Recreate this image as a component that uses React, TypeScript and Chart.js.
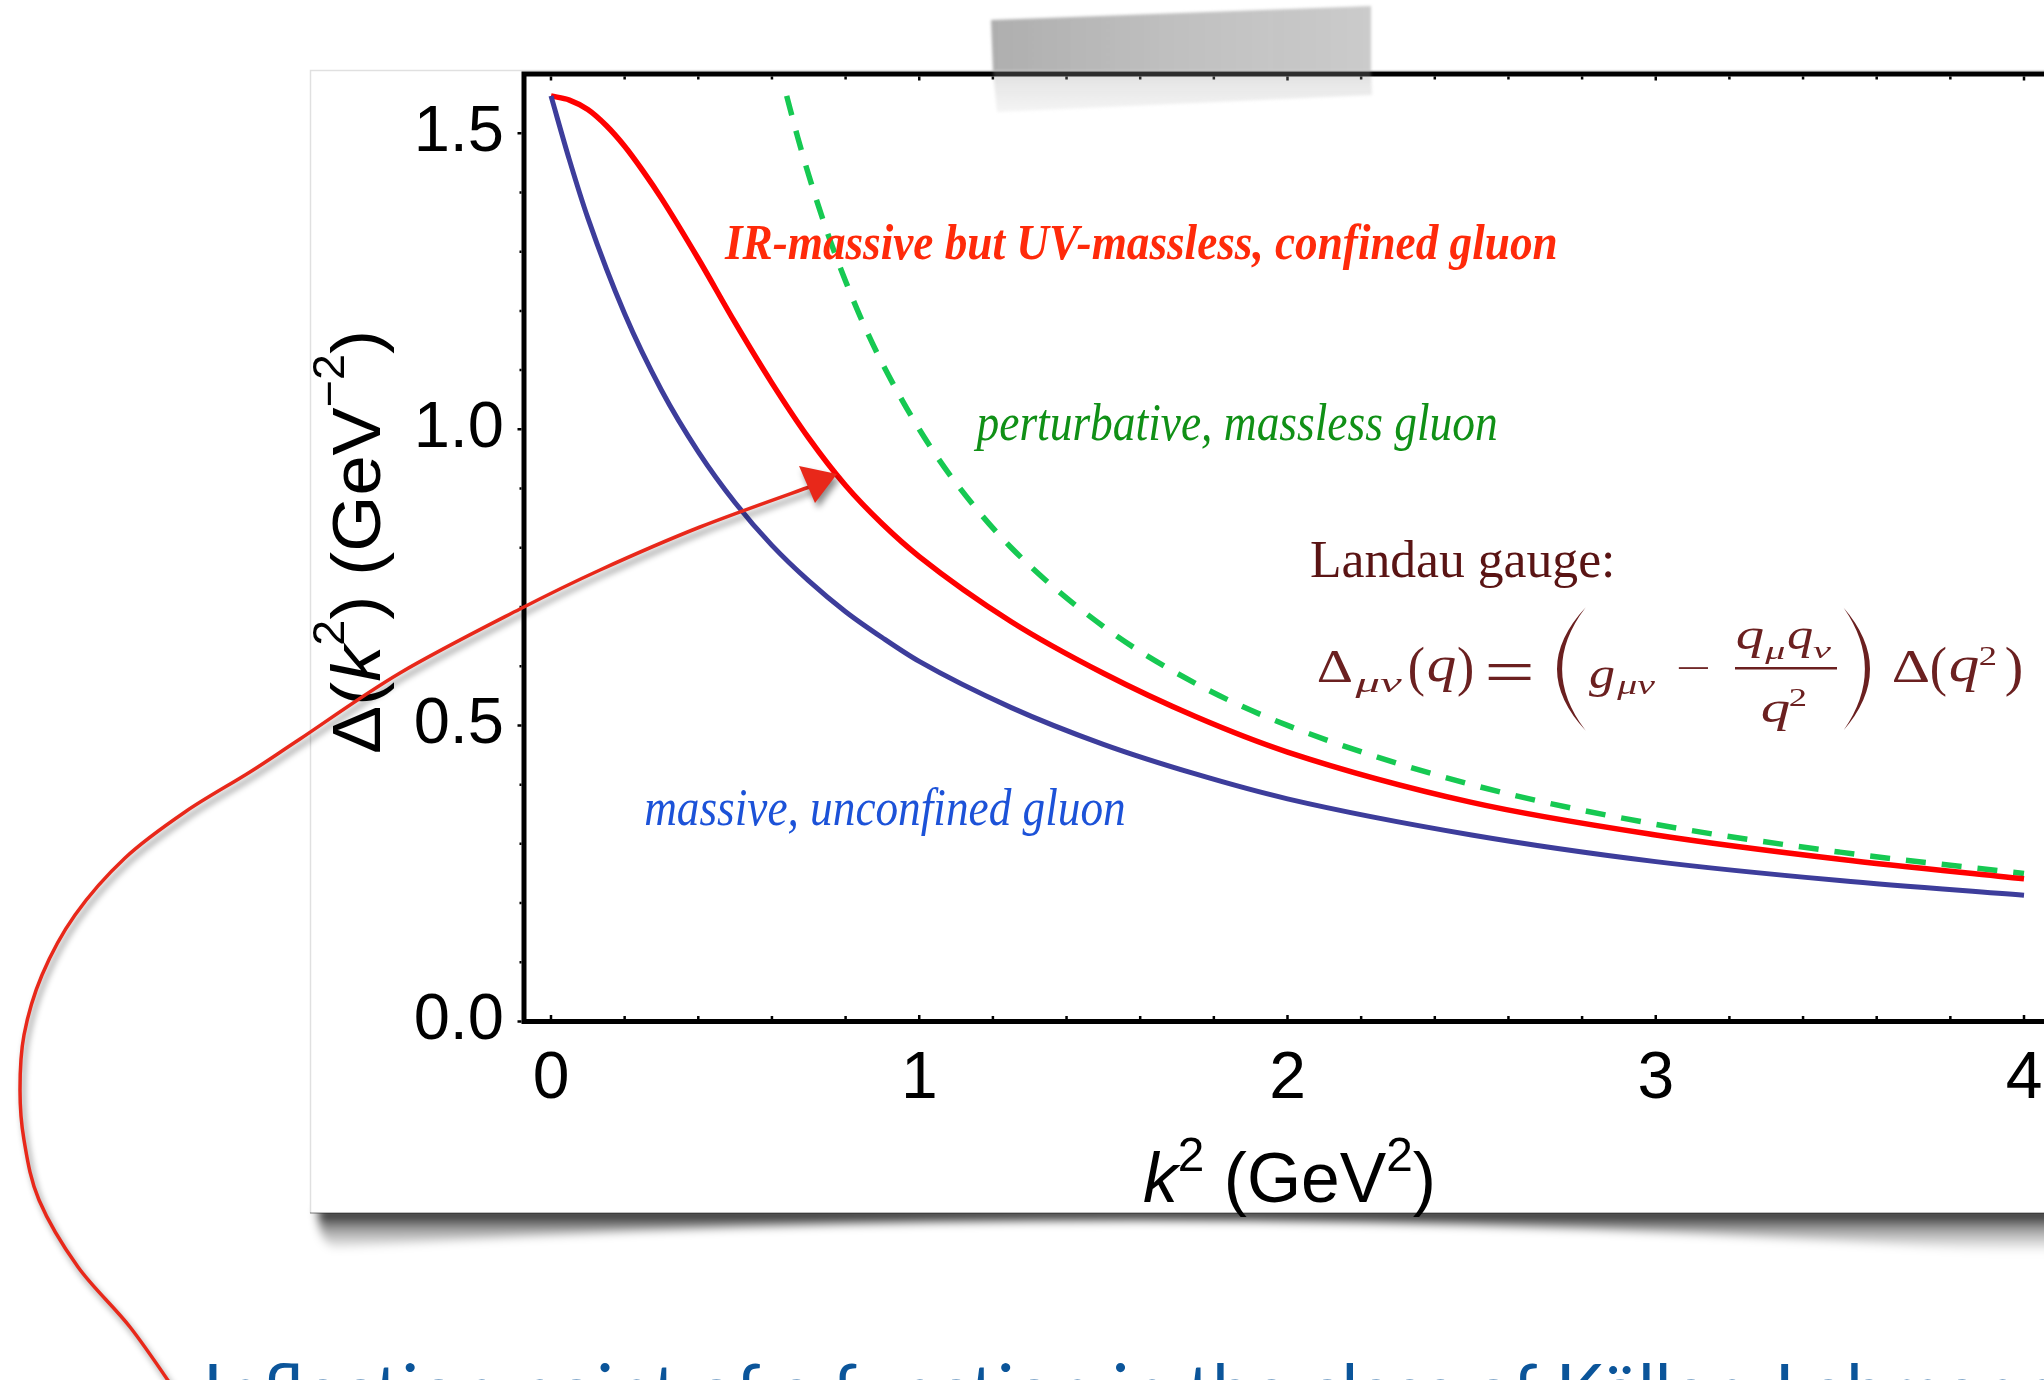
import { useEffect, useRef } from 'react';
import { Chart, registerables } from 'chart.js';

Chart.register(...registerables);

const W = 2044;
const H = 1380;

// k^2 (GeV^2) sample positions and propagator values
const massiveK2 = [0, 0.05, 0.1, 0.2, 0.3, 0.4, 0.5, 0.6, 0.7, 0.8, 0.9, 1.0, 1.25, 1.5, 1.75, 2.0, 2.5, 3.0, 3.5, 4.0];
const massiveProp = [1.563, 1.455, 1.357, 1.195, 1.066, 0.962, 0.876, 0.804, 0.744, 0.692, 0.648, 0.608, 0.53, 0.468, 0.418, 0.376, 0.315, 0.27, 0.238, 0.213];

const confinedK2 = [0, 0.05, 0.1, 0.15, 0.2, 0.25, 0.3, 0.4, 0.5, 0.6, 0.7, 0.8, 0.9, 1.0, 1.25, 1.5, 1.75, 2.0, 2.5, 3.0, 3.5, 4.0];
const confinedProp = [1.563, 1.556, 1.54, 1.513, 1.478, 1.436, 1.39, 1.288, 1.18, 1.078, 0.985, 0.905, 0.84, 0.785, 0.675, 0.588, 0.515, 0.455, 0.37, 0.315, 0.274, 0.241];

const perturbativeK2 = [0.64, 0.67, 0.7, 0.75, 0.8, 0.85, 0.9, 1.0, 1.1, 1.25, 1.5, 1.75, 2.0, 2.5, 3.0, 3.5, 4.0];
const perturbativeProp = [1.563, 1.493, 1.429, 1.333, 1.25, 1.176, 1.111, 1.0, 0.909, 0.8, 0.667, 0.571, 0.5, 0.4, 0.333, 0.286, 0.25];

const xTickValues = [0, 1, 2, 3, 4];
const xTickLabels = ['0', '1', '2', '3', '4'];
const yTickValues = [0, 0.5, 1.0, 1.5];
const yTickLabels = ['0.0', '0.5', '1.0', '1.5'];

const X_MIN = -0.0733;
const X_MAX = 4.0543;
const Y_MIN = 0;
const Y_MAX = 1.6;

const SANS = '"Liberation Sans", Arial, Helvetica, sans-serif';
const SERIF = '"Liberation Serif", "Times New Roman", serif';

const toPoints = (xs: number[], ys: number[]) => xs.map((x, i) => ({ x, y: ys[i] }));

type Run = { text: string; font: string; dy?: number };

function drawRuns(ctx: CanvasRenderingContext2D, runs: Run[], x: number, y: number, targetW: number, color: string) {
  let total = 0;
  for (const r of runs) {
    ctx.font = r.font;
    total += ctx.measureText(r.text).width;
  }
  const sx = targetW / total;
  ctx.save();
  ctx.translate(x, y);
  ctx.scale(sx, 1);
  ctx.fillStyle = color;
  ctx.textAlign = 'left';
  ctx.textBaseline = 'alphabetic';
  let cx = 0;
  for (const r of runs) {
    ctx.font = r.font;
    ctx.fillText(r.text, cx, r.dy || 0);
    cx += ctx.measureText(r.text).width;
  }
  ctx.restore();
}

function drawFit(ctx: CanvasRenderingContext2D, text: string, font: string, color: string, x: number, baseline: number, width: number) {
  ctx.save();
  ctx.font = font;
  ctx.textAlign = 'left';
  ctx.textBaseline = 'alphabetic';
  const m = ctx.measureText(text);
  const inkW = m.actualBoundingBoxRight + m.actualBoundingBoxLeft;
  const sx = width / inkW;
  ctx.translate(x + m.actualBoundingBoxLeft * sx, baseline);
  ctx.scale(sx, 1);
  ctx.fillStyle = color;
  ctx.fillText(text, 0, 0);
  ctx.restore();
}

// fit the ink box of a glyph run into a given pixel box
function drawInk(ctx: CanvasRenderingContext2D, text: string, font: string, color: string, x0: number, x1: number, y0: number, y1: number) {
  ctx.save();
  ctx.font = font;
  ctx.textAlign = 'left';
  ctx.textBaseline = 'alphabetic';
  const m = ctx.measureText(text);
  const inkL = -m.actualBoundingBoxLeft;
  const inkR = m.actualBoundingBoxRight;
  const inkT = -m.actualBoundingBoxAscent;
  const inkB = m.actualBoundingBoxDescent;
  const sx = (x1 - x0) / (inkR - inkL);
  const sy = (y1 - y0) / (inkB - inkT);
  ctx.translate(x0 - inkL * sx, y0 - inkT * sy);
  ctx.scale(sx, sy);
  ctx.fillStyle = color;
  ctx.fillText(text, 0, 0);
  ctx.restore();
}

// thin tall delimiter (crescent) for the big parentheses of the formula
function bigParen(ctx: CanvasRenderingContext2D, xEnd: number, xMid: number, y0: number, y1: number, color: string) {
  const ym = (y0 + y1) / 2;
  const dir = Math.sign(xEnd - xMid);
  ctx.save();
  ctx.fillStyle = color;
  ctx.beginPath();
  ctx.moveTo(xEnd, y0);
  ctx.quadraticCurveTo(2 * xMid - xEnd, ym, xEnd, y1);
  ctx.lineTo(xEnd - dir * 0.8, y1 - 1);
  ctx.quadraticCurveTo(2 * (xMid + dir * 5.5) - xEnd, ym, xEnd - dir * 0.8, y0 + 1);
  ctx.closePath();
  ctx.fill();
  ctx.restore();
}

function catmull(ctx: CanvasRenderingContext2D, pts: number[][]) {
  ctx.moveTo(pts[0][0], pts[0][1]);
  for (let i = 0; i < pts.length - 1; i++) {
    const p0 = pts[Math.max(0, i - 1)];
    const p1 = pts[i];
    const p2 = pts[i + 1];
    const p3 = pts[Math.min(pts.length - 1, i + 2)];
    ctx.bezierCurveTo(
      p1[0] + (p2[0] - p0[0]) / 6,
      p1[1] + (p2[1] - p0[1]) / 6,
      p2[0] - (p3[0] - p1[0]) / 6,
      p2[1] - (p3[1] - p1[1]) / 6,
      p2[0],
      p2[1]
    );
  }
}

const decor = {
  id: 'decor',
  beforeDraw(chart: any) {
    const ctx: CanvasRenderingContext2D = chart.ctx;
    ctx.save();
    ctx.fillStyle = '#ffffff';
    ctx.fillRect(0, 0, W, H);
    // curled drop shadow under the card
    ctx.filter = 'blur(5px)';
    const g = ctx.createLinearGradient(0, 1212, 0, 1252);
    g.addColorStop(0, 'rgba(0,0,0,0.85)');
    g.addColorStop(0.45, 'rgba(0,0,0,0.35)');
    g.addColorStop(1, 'rgba(0,0,0,0)');
    ctx.fillStyle = g;
    ctx.beginPath();
    ctx.moveTo(318, 1208);
    ctx.lineTo(2080, 1208);
    ctx.lineTo(2080, 1258);
    ctx.quadraticCurveTo(1200, 1188, 334, 1248);
    ctx.quadraticCurveTo(318, 1242, 318, 1208);
    ctx.closePath();
    ctx.fill();
    ctx.filter = 'none';
    // card
    ctx.fillStyle = '#ffffff';
    ctx.fillRect(310, 70, W - 310, 1213 - 70);
    ctx.strokeStyle = 'rgba(0,0,0,0.12)';
    ctx.lineWidth = 1.5;
    ctx.beginPath();
    ctx.moveTo(310.5, 1213);
    ctx.lineTo(310.5, 70.5);
    ctx.lineTo(W, 70.5);
    ctx.stroke();
    ctx.strokeStyle = 'rgba(0,0,0,0.35)';
    ctx.beginPath();
    ctx.moveTo(310, 1213);
    ctx.lineTo(W, 1213);
    ctx.stroke();
    ctx.restore();
  },
  afterDraw(chart: any) {
    const ctx: CanvasRenderingContext2D = chart.ctx;
    const xs = chart.scales.x;
    const ys = chart.scales.y;
    const { left, top, bottom, right } = chart.chartArea;
    ctx.save();

    // frame
    ctx.strokeStyle = '#000';
    ctx.lineWidth = 5;
    ctx.lineCap = 'butt';
    ctx.beginPath();
    ctx.moveTo(left - 2.5, top);
    ctx.lineTo(right + 5, top);
    ctx.moveTo(left, top - 2.5);
    ctx.lineTo(left, bottom + 2.5);
    ctx.moveTo(left - 2.5, bottom);
    ctx.lineTo(right + 5, bottom);
    ctx.stroke();

    // small ticks
    ctx.lineWidth = 2.5;
    ctx.beginPath();
    for (let i = 0; i <= 20; i++) {
      const v = i / 5;
      const px = xs.getPixelForValue(v);
      const len = i % 5 === 0 ? 4 : 3;
      ctx.moveTo(px, bottom - 2.5);
      ctx.lineTo(px, bottom - 2.5 - len);
      ctx.moveTo(px, top + 2.5);
      ctx.lineTo(px, top + 2.5 + len);
    }
    for (let i = 0; i <= 15; i++) {
      const v = i / 10;
      const py = ys.getPixelForValue(v);
      const len = i % 5 === 0 ? 4 : 2;
      ctx.moveTo(left - 2.5, py);
      ctx.lineTo(left - 2.5 - len, py);
    }
    ctx.stroke();

    // axis titles
    drawRuns(
      ctx,
      [
        { text: 'k', font: `italic 70px ${SANS}` },
        { text: '2', font: `48px ${SANS}`, dy: -31 },
        { text: ' (', font: `70px ${SANS}` },
        { text: 'GeV', font: `70px ${SANS}` },
        { text: '2', font: `48px ${SANS}`, dy: -31 },
        { text: ')', font: `70px ${SANS}` },
      ],
      1143,
      1202,
      293,
      '#000'
    );
    ctx.save();
    ctx.translate(380, 754);
    ctx.rotate(-Math.PI / 2);
    drawRuns(
      ctx,
      [
        { text: 'Δ', font: `68px ${SANS}` },
        { text: '(', font: `68px ${SANS}` },
        { text: 'k', font: `italic 68px ${SANS}` },
        { text: '2', font: `44px ${SANS}`, dy: -36 },
        { text: ') (', font: `68px ${SANS}` },
        { text: 'GeV', font: `68px ${SANS}` },
        { text: '−2', font: `44px ${SANS}`, dy: -36 },
        { text: ')', font: `68px ${SANS}` },
      ],
      0,
      0,
      424,
      '#000'
    );
    ctx.restore();

    // curve labels
    drawFit(ctx, 'IR-massive but UV-massless, confined gluon', `bold italic 50px ${SERIF}`, '#ff2a0a', 724, 259, 832);
    drawFit(ctx, 'perturbative, massless gluon', `italic 52px ${SERIF}`, '#109016', 973, 440, 523);
    drawFit(ctx, 'massive, unconfined gluon', `italic 52px ${SERIF}`, '#1c52d8', 645, 825, 479);

    // Landau gauge formula
    const fc = '#6b2020';
    drawFit(ctx, 'Landau gauge:', `52px ${SERIF}`, '#5a1414', 1311, 577, 301);
    const up = `48px ${SERIF}`;
    const it = `italic 48px ${SERIF}`;
    const itS = `italic 34px ${SERIF}`;
    drawInk(ctx, 'Δ', up, fc, 1318, 1352, 651, 682);
    drawInk(ctx, 'μν', itS, fc, 1354, 1403, 679, 698);
    drawInk(ctx, '(', up, fc, 1410, 1424, 646, 698);
    drawInk(ctx, 'q', it, fc, 1428, 1455, 657, 692);
    drawInk(ctx, ')', up, fc, 1458, 1472, 646, 698);
    drawInk(ctx, '=', up, fc, 1488, 1531, 664, 680);
    bigParen(ctx, 1586, 1557, 607, 731, fc);
    drawInk(ctx, 'g', it, fc, 1589, 1614, 666, 697);
    drawInk(ctx, 'μν', itS, fc, 1616, 1656, 681, 699);
    drawInk(ctx, '−', up, fc, 1678, 1708, 666, 669);
    drawInk(ctx, 'q', it, fc, 1737, 1763, 627, 658);
    drawInk(ctx, 'μ', itS, fc, 1764, 1784, 647, 664);
    drawInk(ctx, 'q', it, fc, 1788, 1812, 627, 658);
    drawInk(ctx, 'ν', itS, fc, 1813, 1832, 647, 658);
    ctx.fillStyle = fc;
    ctx.fillRect(1735, 667, 102, 2.5);
    drawInk(ctx, 'q', it, fc, 1762, 1789, 700, 731);
    drawInk(ctx, '2', `32px ${SERIF}`, fc, 1790, 1806, 689, 706);
    bigParen(ctx, 1843, 1870, 607, 731, fc);
    drawInk(ctx, 'Δ', up, fc, 1893, 1929, 651, 682);
    drawInk(ctx, '(', up, fc, 1932, 1946, 646, 698);
    drawInk(ctx, 'q', it, fc, 1950, 1978, 657, 692);
    drawInk(ctx, '2', `32px ${SERIF}`, fc, 1980, 1996, 647, 665);
    drawInk(ctx, ')', up, fc, 2006, 2021, 646, 698);

    // hand drawn arrow
    ctx.save();
    ctx.shadowColor = 'rgba(0,0,0,0.45)';
    ctx.shadowOffsetX = 3;
    ctx.shadowOffsetY = 5;
    ctx.shadowBlur = 6;
    ctx.strokeStyle = '#e8281a';
    ctx.lineWidth = 3.5;
    ctx.lineCap = 'round';
    ctx.beginPath();
    catmull(ctx, [
      [176, 1392], [130, 1327], [78, 1267], [39, 1200], [24, 1140], [20, 1090], [24, 1035],
      [42, 975], [75, 915], [125, 858], [185, 812], [250, 772], [300, 739], [400, 673],
      [520, 609], [600, 570], [700, 527], [812, 486],
    ]);
    ctx.stroke();
    ctx.fillStyle = '#e8281a';
    ctx.beginPath();
    ctx.moveTo(799, 466);
    ctx.lineTo(837, 474);
    ctx.lineTo(815, 503);
    ctx.closePath();
    ctx.fill();
    ctx.restore();

    // bottom caption (cut off by the page edge)
    ctx.save();
    ctx.fillStyle = '#0b559a';
    ctx.font = `71px Lato, "Open Sans", sans-serif`;
    ctx.textBaseline = 'alphabetic';
    ctx.fillText('Inflection point of a function in the class of Källen-Lehmann', 203, 1416);
    ctx.restore();

    // tape
    ctx.save();
    ctx.filter = 'blur(1.5px)';
    const tg = ctx.createLinearGradient(991, 0, 1371, 0);
    tg.addColorStop(0, 'rgba(120,120,120,0.6)');
    tg.addColorStop(0.5, 'rgba(140,140,140,0.55)');
    tg.addColorStop(1, 'rgba(150,150,150,0.5)');
    ctx.fillStyle = tg;
    ctx.beginPath();
    ctx.moveTo(991, 20);
    ctx.lineTo(1371, 6);
    ctx.lineTo(1371, 71);
    ctx.lineTo(993, 71);
    ctx.closePath();
    ctx.fill();
    const tg2 = ctx.createLinearGradient(0, 71, 0, 112);
    tg2.addColorStop(0, 'rgba(150,150,150,0.3)');
    tg2.addColorStop(1, 'rgba(180,180,180,0.15)');
    ctx.fillStyle = tg2;
    ctx.beginPath();
    ctx.moveTo(993, 71);
    ctx.lineTo(1371, 71);
    ctx.lineTo(1372, 95);
    ctx.lineTo(997, 112);
    ctx.closePath();
    ctx.fill();
    ctx.restore();

    ctx.restore();
  },
};

export default function App() {
  const ref = useRef<HTMLCanvasElement | null>(null);
  useEffect(() => {
    document.body.style.margin = '0';
    document.body.style.overflow = 'hidden';
    const canvas = ref.current;
    if (!canvas) return;
    const chart = new Chart(canvas, {
      type: 'line',
      data: {
        datasets: [
          {
            label: 'massive, unconfined gluon',
            data: toPoints(massiveK2, massiveProp),
            borderColor: '#3d3d9b',
            borderWidth: 5,
            pointRadius: 0,
            cubicInterpolationMode: 'monotone',
            fill: false,
          },
          {
            label: 'IR-massive but UV-massless, confined gluon',
            data: toPoints(confinedK2, confinedProp),
            borderColor: '#ff0000',
            borderWidth: 5.5,
            pointRadius: 0,
            cubicInterpolationMode: 'monotone',
            fill: false,
          },
          {
            label: 'perturbative, massless gluon',
            data: toPoints(perturbativeK2, perturbativeProp),
            borderColor: '#16c952',
            borderWidth: 5.5,
            borderDash: [20, 16],
            pointRadius: 0,
            cubicInterpolationMode: 'monotone',
            fill: false,
          },
        ],
      },
      options: {
        animation: false,
        responsive: false,
        devicePixelRatio: 1,
        layout: { padding: { left: 0, right: 0, top: 74, bottom: 0 } },
        plugins: {
          legend: { display: false },
          tooltip: { enabled: false },
          title: { display: false },
        },
        scales: {
          x: {
            type: 'linear',
            min: X_MIN,
            max: X_MAX,
            grid: { display: false, drawTicks: false },
            border: { display: false },
            ticks: {
              color: '#000',
              font: { family: SANS, size: 66 },
              padding: 19,
              maxRotation: 0,
              autoSkip: false,
              callback: (_v: any, i: number) => xTickLabels[i],
            },
            afterBuildTicks: (s: any) => {
              s.ticks = xTickValues.map((v) => ({ value: v }));
            },
            afterFit: (s: any) => {
              s.height = H - 1021.5;
              s.paddingLeft = 0;
              s.paddingRight = 0;
            },
          },
          y: {
            type: 'linear',
            min: Y_MIN,
            max: Y_MAX,
            grid: { display: false, drawTicks: false },
            border: { display: false },
            ticks: {
              color: '#000',
              font: { family: SANS, size: 65 },
              padding: 20,
              autoSkip: false,
              callback: (_v: any, i: number) => yTickLabels[i],
            },
            afterBuildTicks: (s: any) => {
              s.ticks = yTickValues.map((v) => ({ value: v }));
            },
            afterFit: (s: any) => {
              s.width = 524;
              s.paddingTop = 0;
              s.paddingBottom = 0;
            },
          },
        },
      },
      plugins: [decor],
    } as any);
    return () => chart.destroy();
  }, []);
  return (
    <canvas
      ref={ref}
      width={W}
      height={H}
      style={{ position: 'absolute', left: 0, top: 0, width: W, height: H, display: 'block' }}
    />
  );
}
